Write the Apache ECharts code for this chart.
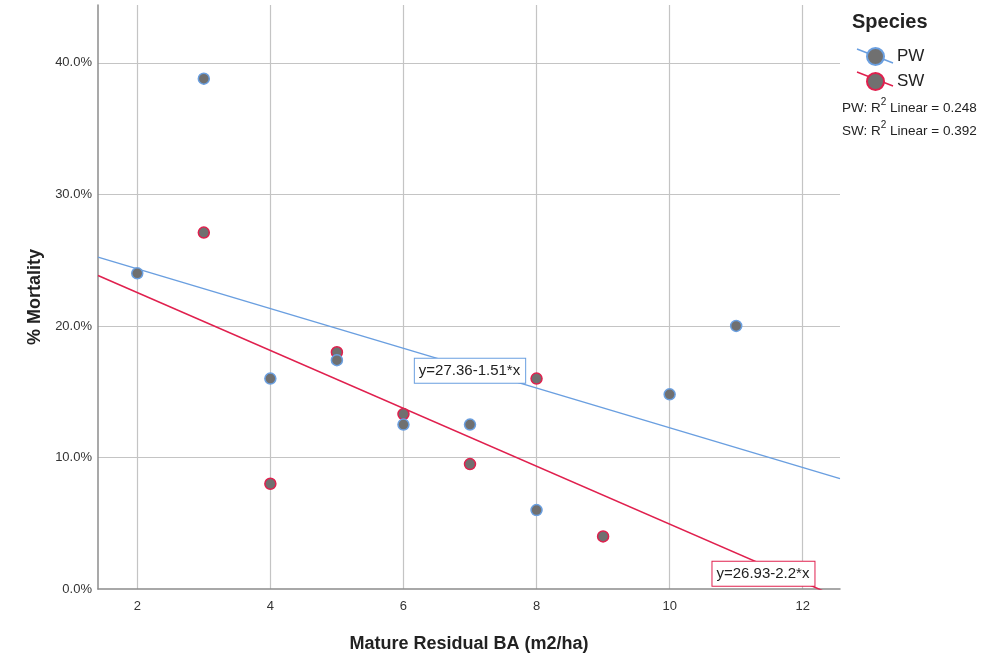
<!DOCTYPE html>
<html>
<head>
<meta charset="utf-8">
<script src="https://cdn.jsdelivr.net/npm/echarts@6/dist/echarts.min.js"></script>
<style>
  html, body { margin: 0; padding: 0; background: #fff; }
  #chart { width: 990px; height: 658px; }
</style>
</head>
<body>
<div id="chart"></div>
<script>
// residual BA (m2/ha) and % mortality
const pwPoints = [[2, 24.0], [3, 38.8], [4, 16.0], [5, 17.4], [6, 12.5], [7, 12.5], [8, 6.0], [10, 14.8], [11, 20.0]]
const swPoints = [[3, 27.1], [4, 8.0], [5, 18.0], [6, 13.3], [7, 9.5], [8, 16.0], [9, 4.0]]

// fit lines, end points across the x range
const pwFit = [[1.41, 25.23], [12.56, 8.39]]
const swFit = [[1.41, 23.83], [12.56, -0.70]]

const pwEquation = 'y=27.36-1.51*x'
const swEquation = 'y=26.93-2.2*x'
const pwLabelAt = [7.0, 16.6]
const swLabelAt = [11.41, 1.15]

const r2Lines = ['PW: R{sup|2} Linear = 0.248', 'SW: R{sup|2} Linear = 0.392']

const xRange = [1.41, 12.56]
const yRange = [0, 44.4]

const blue = '#6a9fe0'
const red = '#e0204e'
const dot = '#707070'
const font = '"Liberation Sans", Arial, sans-serif'

const chart = echarts.init(document.getElementById('chart'))

const eqLabel = (text, color) => ({
  show: true,
  formatter: text,
  position: 'inside',
  color: '#222',
  fontFamily: font,
  fontSize: 15,
  backgroundColor: '#fff',
  borderColor: color,
  borderWidth: 1,
  padding: [5, 5, 4, 4]
})

chart.setOption({
  animation: false,
  textStyle: { fontFamily: font },
  grid: { left: 98, right: 150, top: 5, bottom: 67 },
  legend: {
    left: 866,
    top: 47,
    padding: 0,
    orient: 'vertical',
    itemWidth: 17,
    itemHeight: 17,
    itemGap: 6,
    icon: 'circle',
    data: ['PW', 'SW'],
    textStyle: { fontFamily: font, fontSize: 17, color: '#222', padding: [0, 0, 0, 8] }
  },
  xAxis: {
    type: 'value',
    min: xRange[0],
    max: xRange[1],
    name: 'Mature Residual BA (m2/ha)',
    nameLocation: 'middle',
    nameGap: 46,
    nameTextStyle: { fontFamily: font, fontSize: 18, fontWeight: 'bold', color: '#222' },
    axisLine: { lineStyle: { color: '#8c8c8c', width: 1.5 } },
    axisTick: { show: false },
    axisLabel: { showMinLabel: false, showMaxLabel: false, color: '#333', fontSize: 13, margin: 11 },
    splitLine: { showMinLine: false, showMaxLine: false, lineStyle: { color: '#c4c4c4', width: 1.2 } }
  },
  yAxis: {
    type: 'value',
    min: yRange[0],
    max: yRange[1],
    interval: 10,
    name: '% Mortality',
    nameLocation: 'middle',
    nameGap: 54,
    nameTextStyle: { fontFamily: font, fontSize: 18, fontWeight: 'bold', color: '#222' },
    axisLine: { show: true, lineStyle: { color: '#8c8c8c', width: 1.5 } },
    axisTick: { show: false },
    axisLabel: {
      showMaxLabel: false,
      color: '#333',
      fontSize: 13,
      margin: 6,
      formatter: v => v.toFixed(1) + '%'
    },
    splitLine: { showMinLine: false, showMaxLine: false, lineStyle: { color: '#c4c4c4', width: 1.2 } }
  },
  series: [
    {
      name: 'PW fit',
      type: 'line',
      data: pwFit,
      symbol: 'none',
      lineStyle: { color: blue, width: 1.5 },
      z: 2,
      markPoint: {
        symbol: 'rect',
        symbolSize: 0,
        data: [{ coord: pwLabelAt, label: eqLabel(pwEquation, blue) }]
      }
    },
    {
      name: 'SW fit',
      type: 'line',
      data: swFit,
      symbol: 'none',
      lineStyle: { color: red, width: 1.5 },
      z: 2,
      markPoint: {
        symbol: 'rect',
        symbolSize: 0,
        data: [{ coord: swLabelAt, label: eqLabel(swEquation, red) }]
      }
    },
    {
      name: 'PW',
      type: 'scatter',
      data: pwPoints,
      symbolSize: 11,
      itemStyle: { color: dot, borderColor: blue, borderWidth: 1.5, opacity: 1 },
      z: 4
    },
    {
      name: 'SW',
      type: 'scatter',
      data: swPoints,
      symbolSize: 11,
      itemStyle: { color: dot, borderColor: red, borderWidth: 1.5, opacity: 1 },
      z: 3
    }
  ],
  graphic: [
    {
      type: 'text',
      left: 852,
      top: 12,
      style: { text: 'Species', fontFamily: font, fontSize: 20, fontWeight: 'bold', fill: '#222' }
    },
    {
      type: 'line',
      z: -1,
      shape: { x1: 857, y1: 49, x2: 893, y2: 63 },
      style: { stroke: blue, lineWidth: 1.5 }
    },
    {
      type: 'line',
      z: -1,
      shape: { x1: 857, y1: 72, x2: 893, y2: 86 },
      style: { stroke: red, lineWidth: 1.5 }
    },
    {
      type: 'text',
      left: 842,
      top: 97,
      style: {
        text: r2Lines.join('\n'),
        fontFamily: font,
        fontSize: 13.5,
        lineHeight: 23,
        fill: '#222',
        rich: { sup: { fontSize: 10, verticalAlign: 'top', padding: [0, 0, 7, 0], fill: '#222' } }
      }
    }
  ]
})
</script>
</body>
</html>
